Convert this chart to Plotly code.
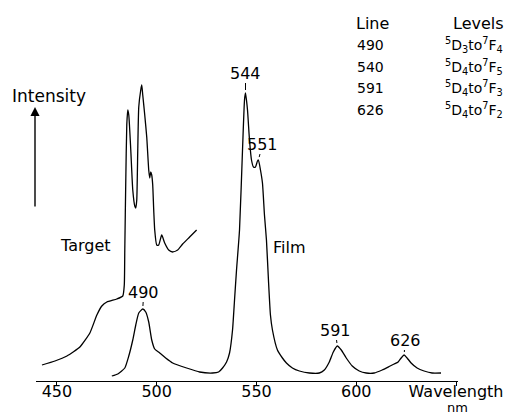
import plotly.graph_objects as go

# Film spectrum (wavelength nm, relative intensity)
film_wl = [477.5, 480.5, 484, 486, 488, 489.5, 491, 493, 494.5, 496, 497.5, 499, 501.5, 504.5, 508, 515,
           521.5, 528, 531, 533, 535, 536.5, 538, 539, 540, 541.5, 543, 544, 544.5, 545.5, 546.5, 547.5,
           548.5, 549.5, 550.5, 551, 552, 553, 554, 555, 556, 557, 558, 560.5, 563, 565, 568, 571.5,
           576.5, 581.5, 584, 586.5, 588.5, 590.5, 592.5, 595, 598, 601.5, 605, 609, 613, 617, 619, 621,
           622.5, 624, 625.5, 627.5, 630.5, 634, 638, 642.5]
film_int = [5, 7, 13, 25, 41, 56, 68, 72, 69, 59, 41, 32, 28, 23, 18, 13,
            9, 8, 9, 13, 19, 28, 51, 81, 111, 151, 231, 281, 288, 271, 241, 221,
            214, 214, 220, 221, 211, 198, 166, 141, 101, 66, 51, 31, 23, 18, 13, 10,
            8, 8, 11, 19, 29, 35, 31, 23, 15, 10, 8, 8, 11, 15, 17, 19,
            23, 26, 23, 18, 13, 10, 8, 8]

# Target spectrum
target_wl = [442.5, 449, 455, 461.5, 466.5, 470, 472.5, 475, 480, 483, 483.75, 484, 484.5, 485, 485.5,
             486, 487, 488, 489, 489.5, 490, 490.5, 491, 492, 492.5, 493, 494, 495, 496, 496.5, 497,
             497.5, 498, 498.5, 499, 500, 501, 502.5, 504, 506, 508, 510.5, 513, 516.5, 520]
target_int = [16, 20, 25, 34, 48, 66, 75, 79, 82, 85, 96, 131, 201, 256, 271,
              266, 231, 191, 175, 173, 181, 231, 274, 291, 296, 286, 266, 244, 211, 203, 209,
              206, 196, 171, 151, 136, 136, 146, 138, 131, 129, 131, 137, 144, 151]

peak_labels = ["490", "544", "551", "591", "626"]
peak_wl = [493, 544.5, 551, 590.5, 624]
peak_offsets = [(1, -17), (0, -20), (4, -16), (-2, -16), (1, -15)]

tick_vals = [450, 500, 550, 600, 650]
tick_text = ["450", "500", "550", "600", "Wavelength"]

table_lines = ["490", "540", "591", "626"]
table_levels = ["<sup>5</sup>D<sub>3</sub>to<sup>7</sup>F<sub>4</sub>",
                "<sup>5</sup>D<sub>4</sub>to<sup>7</sup>F<sub>5</sub>",
                "<sup>5</sup>D<sub>4</sub>to<sup>7</sup>F<sub>3</sub>",
                "<sup>5</sup>D<sub>4</sub>to<sup>7</sup>F<sub>2</sub>"]

W, H = 507, 413
ML, MR, MT, MB = 36, 49, 0, 32
X0, X1 = 439.5, 651.0
Y0, Y1 = 0.0, 381.0
FONT = "DejaVu Sans, Liberation Sans, sans-serif"


def PX(px):
    return (px - ML) / (W - ML - MR)


def PY(py):
    return 1 - (py - MT) / (H - MT - MB)


fig = go.Figure()
line = dict(color="black", width=1.3, shape="spline", smoothing=0.5)
fig.add_trace(go.Scatter(x=target_wl, y=target_int, mode="lines", line=line, hoverinfo="skip"))
fig.add_trace(go.Scatter(x=film_wl, y=film_int, mode="lines", line=line, hoverinfo="skip"))

ann = []
for lab, wl, (ax, ay) in zip(peak_labels, peak_wl, peak_offsets):
    i = min(range(len(film_wl)), key=lambda k: abs(film_wl[k] - wl))
    ann.append(dict(x=film_wl[i], y=film_int[i], text=lab, showarrow=True, arrowhead=0,
                    arrowwidth=1, arrowcolor="black", ax=ax, ay=ay, standoff=3,
                    borderpad=0, font=dict(size=16, color="black", family=FONT)))

def txt(px, py, t, size=16, anchor="center", pad=1):
    return dict(x=PX(px), y=PY(py), xref="paper", yref="paper", text=t, showarrow=False,
                xanchor=anchor, yanchor="middle", borderpad=pad,
                font=dict(size=size, color="black", family=FONT))

ann.append(txt(49, 96, "Intensity", size=17))
ann.append(txt(85, 245, "Target"))
ann.append(txt(289, 247, "Film"))
ann.append(txt(457, 407.5, "nm", size=13, pad=0))
ann.append(txt(372, 23, "Line"))
ann.append(txt(478, 23, "Levels"))
rows = [45, 67, 88, 110]
for ln, lv, r in zip(table_lines, table_levels, rows):
    ann.append(txt(355, r, ln, size=14, anchor="left"))
    ann.append(txt(443, r, lv, size=14, anchor="left"))

# intensity arrow (tip at y=107 px, tail 101 px below)
ann.append(dict(x=PX(35), y=PY(107), ax=0, ay=101, xref="paper", yref="paper",
                text="", showarrow=True, arrowhead=2,
                arrowsize=1.3, arrowwidth=1.4, arrowcolor="black"))

fig.update_layout(
    width=W, height=H, margin=dict(l=ML, r=MR, t=MT, b=MB),
    paper_bgcolor="white", plot_bgcolor="white", showlegend=False,
    annotations=ann,
    xaxis=dict(range=[X0, X1], showgrid=False, zeroline=False, showline=True, linecolor="black",
               linewidth=1.3, ticks="outside", ticklen=4, tickwidth=1.3, tickcolor="black",
               tickvals=tick_vals, ticktext=tick_text, automargin=False, ticklabelstandoff=-8,
               tickfont=dict(size=16, color="black", family=FONT)),
    yaxis=dict(range=[Y0, Y1], visible=False, automargin=False),
)
fig.write_html("out.html", config={"displayModeBar": False},
               post_script="document.body.style.margin='0';document.body.style.overflow='hidden';")
